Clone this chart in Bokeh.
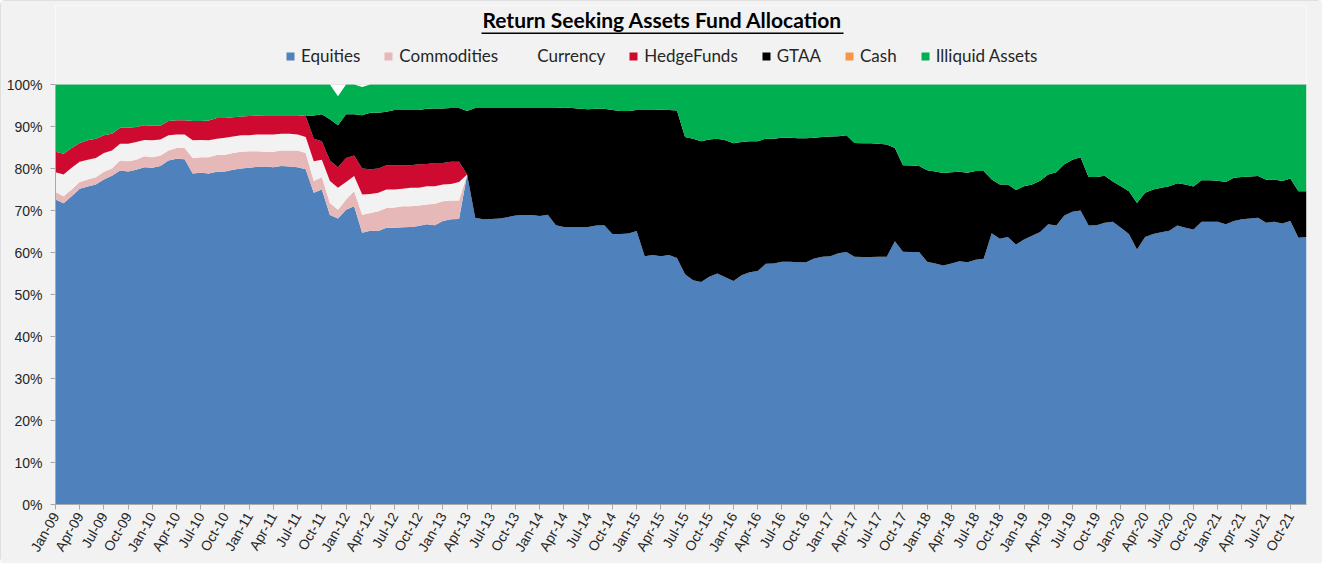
import math
from bokeh.plotting import figure
from bokeh.models import (ColumnDataSource, Range1d, FixedTicker, Legend,
                          LegendItem, Label, BoxAnnotation)
from bokeh.embed import file_html
from bokeh.resources import INLINE

# ---------------- data (monthly, Jan-09 .. Dec-21, % of fund) ----------------
equities = [
    72.6, 71.7, 73.4, 75.2, 75.7, 76.2, 77.4, 78.3, 79.5, 79.3, 79.7, 80.3,
    80.2, 80.6, 81.9, 82.3, 82.2, 78.8, 79.0, 78.8, 79.2, 79.3, 79.7, 80.0,
    80.2, 80.4, 80.5, 80.3, 80.6, 80.5, 80.3, 79.8, 74.2, 75.0, 68.9, 68.1,
    70.2, 71.0, 64.7, 65.2, 65.1, 65.9, 65.9, 66.0, 66.1, 66.3, 66.7, 66.5,
    67.5, 67.9, 68.0, 78.6, 68.3, 67.9, 68.0, 68.1, 68.4, 68.8, 68.9, 68.9,
    68.7, 69.0, 66.5, 66.1, 66.0, 66.0, 66.1, 66.4, 66.5, 64.4, 64.4, 64.5,
    65.1, 59.1, 59.4, 59.1, 59.4, 58.7, 54.8, 53.4, 53.0, 54.2, 55.0, 54.1,
    53.2, 54.6, 55.3, 55.6, 57.3, 57.4, 57.8, 57.8, 57.7, 57.7, 58.6, 59.0,
    59.1, 59.8, 60.1, 59.0, 58.9, 58.9, 59.0, 59.0, 62.7, 60.2, 60.1, 60.1,
    57.8, 57.4, 56.9, 57.4, 57.9, 57.7, 58.3, 58.5, 64.6, 63.3, 63.7, 61.9,
    63.1, 64.0, 64.9, 66.7, 66.4, 68.8, 69.7, 70.0, 66.4, 66.5, 67.1, 67.3,
    65.9, 64.4, 60.7, 63.7, 64.4, 64.8, 65.2, 66.4, 65.9, 65.5, 67.3, 67.3,
    67.3, 66.7, 67.5, 67.9, 68.1, 68.3, 67.1, 67.3, 66.9, 67.5, 63.5, 63.7,
]
commodities = [
    1.8, 1.7, 1.6, 1.6, 1.7, 1.7, 1.8, 1.7, 2.4, 2.4, 2.4, 2.6,
    2.5, 2.5, 2.4, 2.6, 2.7, 3.7, 3.7, 3.9, 4.0, 4.0, 4.0, 4.0,
    3.9, 3.7, 3.5, 3.7, 3.7, 3.8, 4.0, 3.9, 2.8, 2.9, 2.9, 2.1,
    2.4, 3.6, 4.3, 4.2, 4.7, 4.7, 4.8, 5.0, 4.9, 4.9, 4.7, 5.1,
    4.7, 4.5, 4.4,
] + [0.0] * 105
currency = [
    4.7, 5.2, 5.2, 4.8, 4.7, 4.6, 4.5, 4.3, 4.0, 4.2, 4.2, 3.9,
    4.0, 3.8, 3.6, 3.2, 3.2, 4.2, 4.1, 4.0, 3.9, 4.0, 3.9, 3.9,
    3.8, 4.0, 4.1, 4.1, 4.0, 4.0, 3.8, 3.8, 4.7, 4.2, 5.2, 5.2,
    4.2, 3.6, 4.8, 4.5, 4.4, 4.4, 4.3, 4.2, 4.4, 4.2, 4.4, 4.2,
    4.0, 3.9, 4.4,
] + [0.0] * 105
hedge_funds = [
    4.9, 4.9, 4.7, 4.5, 4.6, 4.6, 4.2, 4.0, 3.8, 3.8, 3.6, 3.5,
    3.5, 3.3, 3.4, 3.4, 3.4, 4.6, 4.5, 4.7, 4.9, 4.7, 4.6, 4.5,
    4.6, 4.5, 4.6, 4.6, 4.4, 4.4, 4.6, 5.0, 5.4, 4.4, 4.9, 4.9,
    5.7, 4.9, 6.2, 5.9, 5.8, 5.8, 5.8, 5.6, 5.4, 5.6, 5.3, 5.5,
    5.1, 5.3, 4.8,
] + [0.0] * 105
gtaa = [0.0] * 32 + [
    5.5, 6.4, 9.8, 10.0,
    10.4, 9.8, 12.7, 13.5, 13.3, 12.7, 13.1, 13.1, 13.1, 12.9, 13.1, 13.0,
    13.0, 12.8, 12.8, 15.1, 26.1, 26.5, 26.4, 26.3, 26.0, 25.6, 25.5, 25.5,
    25.7, 25.4, 27.9, 28.4, 28.4, 28.2, 28.0, 27.8, 27.7, 29.5, 29.3, 29.2,
    28.8, 34.8, 34.5, 34.9, 34.5, 35.1, 32.7, 33.7, 33.5, 32.7, 32.1, 32.6,
    32.8, 31.7, 31.2, 30.9, 29.8, 29.7, 29.5, 29.5, 29.5, 29.5, 28.7, 28.5,
    28.5, 27.9, 27.8, 27.1, 27.1, 27.1, 26.9, 26.7, 22.2, 20.6, 20.6, 20.5,
    21.8, 21.9, 22.0, 21.7, 21.3, 21.3, 21.1, 20.9, 12.8, 12.9, 12.5, 13.0,
    12.7, 12.2, 12.2, 11.9, 12.7, 12.2, 12.4, 12.7, 11.6, 11.5, 11.2, 9.6,
    9.9, 10.2, 11.1, 10.5, 10.6, 10.6, 10.6, 10.1, 10.3, 10.2, 9.9, 9.9,
    9.8, 10.1, 10.3, 10.1, 10.0, 9.9, 10.2, 10.1, 10.1, 10.1, 11.1, 10.9,
]
cash = [0.0] * 156
illiquid = [
    16.0, 16.5, 15.1, 13.9, 13.3, 12.9, 12.1, 11.7, 10.3, 10.3, 10.1, 9.7,
    9.8, 9.8, 8.7, 8.5, 8.5, 8.7, 8.7, 8.6, 8.0, 8.0, 7.8, 7.6,
    7.5, 7.4, 7.3, 7.3, 7.3, 7.3, 7.3, 7.5, 7.4, 7.1, 8.3, 6.9,
    7.1, 7.1, 6.7, 6.7, 6.7, 6.5, 6.1, 6.1, 6.1, 6.1, 5.8, 5.7,
    5.7, 5.6, 5.6, 6.3, 5.6, 5.6, 5.6, 5.6, 5.6, 5.6, 5.6, 5.6,
    5.6, 5.6, 5.6, 5.5, 5.6, 5.8, 5.9, 5.8, 5.8, 6.1, 6.3, 6.3,
    6.1, 6.1, 6.1, 6.0, 6.1, 6.2, 12.5, 12.9, 13.5, 13.1, 12.9, 13.3,
    14.0, 13.7, 13.5, 13.5, 12.9, 12.9, 12.7, 12.7, 12.8, 12.8, 12.7, 12.5,
    12.4, 12.3, 12.1, 13.9, 14.0, 14.0, 14.1, 14.3, 15.1, 19.2, 19.3, 19.4,
    20.4, 20.7, 21.1, 20.9, 20.8, 21.0, 20.6, 20.6, 22.6, 23.8, 23.8, 25.1,
    24.2, 23.8, 22.9, 21.4, 20.9, 19.0, 17.9, 17.3, 22.0, 22.0, 21.7, 23.1,
    24.2, 25.4, 28.2, 25.8, 25.0, 24.6, 24.2, 23.5, 23.8, 24.3, 22.8, 22.8,
    22.9, 23.2, 22.2, 22.0, 21.9, 21.8, 22.7, 22.6, 23.0, 22.4, 25.4, 25.4,
]

series_names = ["Equities", "Commodities", "Currency", "HedgeFunds", "GTAA",
                "Cash", "Illiquid Assets"]
series_keys = ["equities", "commodities", "currency", "hedge_funds", "gtaa",
               "cash", "illiquid"]
series_colors = ["#4F81BD", "#E6B9B8", "#F2F2F2", "#CE0A31", "#000000",
                 "#F79646", "#00B050"]

tick_positions = list(range(0, 156, 3))
tick_labels = [f"{m}-{y:02d}" for y in range(9, 22)
               for m in ["Jan", "Apr", "Jul", "Oct"]]
y_ticks = list(range(0, 101, 10))
y_labels = [f"{t}%" for t in y_ticks]

TITLE = "Return Seeking Assets Fund Allocation"

src = ColumnDataSource(dict(
    x=list(range(len(equities))),
    equities=equities, commodities=commodities, currency=currency,
    hedge_funds=hedge_funds, gtaa=gtaa, cash=cash, illiquid=illiquid,
))

BG = "#F2F2F2"
TXT = "#262626"

# ---------------- geometry (pixels) ----------------
W, H = 1322, 563
BORDER_L, BORDER_R, BORDER_T, BORDER_B = 55, 16, 5, 59
FRAME_H = H - BORDER_T - BORDER_B          # frame height incl. header zone
PLOT_H = 420                               # height of the 0..100% area
Y_TOP = 100.0 * FRAME_H / PLOT_H           # header zone sits above 100%

p = figure(width=W, height=H, output_backend="svg", toolbar_location=None,
           x_range=Range1d(0, 155), y_range=Range1d(0, Y_TOP),
           min_border_left=BORDER_L, min_border_right=BORDER_R,
           min_border_top=BORDER_T, min_border_bottom=BORDER_B)
p.background_fill_color = "#FFFFFF"
p.border_fill_color = BG
p.outline_line_color = None
p.xgrid.visible = False
p.ygrid.visible = False
p.styles = {"outline": "1px solid #D9D9D9", "outline-offset": "-1px",
            "border-radius": "5px"}

renderers = p.varea_stack(stackers=series_keys, x="x", color=series_colors,
                          source=src)

# header zone above 100% painted like the chart background
p.add_layout(BoxAnnotation(bottom=100, fill_color=BG, fill_alpha=1.0,
                           line_alpha=0, level="underlay"))
# plot-area outline
p.add_layout(BoxAnnotation(left=0, right=155, bottom=0, top=100,
                           fill_alpha=0, line_color="#BFBFBF", line_width=1))

# axes
p.yaxis.ticker = FixedTicker(ticks=y_ticks)
p.yaxis.major_label_overrides = {t: l for t, l in zip(y_ticks, y_labels)}
p.yaxis.bounds = (0, 100)
p.xaxis.ticker = FixedTicker(ticks=tick_positions)
p.xaxis.major_label_overrides = {t: l for t, l in zip(tick_positions, tick_labels)}
p.xaxis.major_label_orientation = math.radians(60)
for ax in (p.xaxis, p.yaxis):
    ax.axis_line_color = "#A6A6A6"
    ax.major_tick_line_color = "#A6A6A6"
    ax.minor_tick_line_color = None
    ax.major_tick_out = 5
    ax.major_tick_in = 0
    ax.major_label_text_font = "Liberation Sans"
    ax.major_label_text_font_size = "14px"
    ax.major_label_text_color = TXT
p.yaxis.major_label_standoff = 8
p.xaxis.major_label_standoff = 4

# legend (screen offsets from the frame's bottom-left corner)
legend = Legend(
    items=[LegendItem(label=n, renderers=[r]) for n, r in zip(series_names, renderers)],
    orientation="horizontal", location=(230, FRAME_H - 61),
    glyph_width=10, glyph_height=10, label_standoff=6, spacing=23,
    padding=0, margin=0, border_line_alpha=0, background_fill_alpha=0,
    label_text_font="Lato", label_text_font_size="17px", label_text_color=TXT,
    label_height=20,
)
p.add_layout(legend)

# underlined bold title
p.add_layout(Label(x=607, y=FRAME_H - 14, x_units="screen", y_units="screen",
                   text=TITLE, text_align="center", text_baseline="alphabetic",
                   text_font="Lato", text_font_style="bold",
                   text_font_size="21px", text_color="#000000"))
p.add_layout(BoxAnnotation(left=426, right=788,
                           top=FRAME_H - 27, bottom=FRAME_H - 28.5,
                           left_units="screen", right_units="screen",
                           top_units="screen", bottom_units="screen",
                           fill_color="#000000", fill_alpha=1.0, line_alpha=0))

open("out.html", "w").write(file_html(p, INLINE))
